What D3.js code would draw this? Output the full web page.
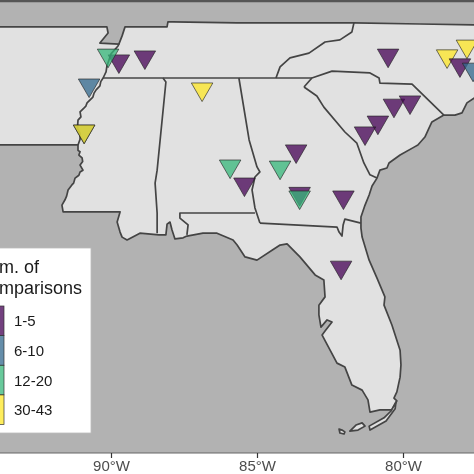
<!DOCTYPE html>
<html><head><meta charset="utf-8">
<script src="https://cdnjs.cloudflare.com/ajax/libs/d3/7.8.5/d3.min.js"></script>
<style>html,body{margin:0;padding:0;background:#fff}svg{display:block;filter:blur(0.45px)}text{font-family:"Liberation Sans",Arial,sans-serif}</style>
</head><body><svg id="c" width="474" height="474"></svg>
<script>
// Study sites: [lon, lat, comparison class], in drawing order
const sites = [
 [-88.84,35.58,0],[-89.73,35.47,0],[-90.10,35.63,2],[-90.75,34.80,1],[-86.88,34.69,3],
 [-90.92,33.52,1],[-90.92,33.52,3],[-85.92,32.55,2],[-85.43,32.05,0],[-83.66,32.97,0],
 [-84.21,32.52,2],[-83.54,31.79,0],[-83.54,31.69,2],[-82.04,31.69,0],[-80.51,35.63,0],
 [-78.49,35.61,3],[-77.81,35.88,3],[-78.05,35.36,0],[-77.60,35.24,1],[-80.31,34.24,0],
 [-79.76,34.33,0],[-80.86,33.77,0],[-81.30,33.47,0],[-82.12,29.74,0]
];
const classLabels = ["1-5","6-10","12-20","30-43"];
const classColors = ["#440154","#31688e","#35b779","#fde725"];
const lonTicks = [-90,-85,-80];

// Outlines, lon/lat
const landRing = [[-94,36.42],[-90.14,36.42],[-90.10,36.25],[-90.38,35.97],[-89.73,35.94],[-89.62,36.17],[-89.52,36.42],[-88.08,36.42],[-88.05,36.56],[-87.88,36.56],[-85.68,36.53],[-81.68,36.53],[-79.42,36.50],[-77.36,36.47],[-77.36,34.56],[-77.57,34.44],[-77.81,34.31],[-77.98,34.03],[-78.22,33.97],[-78.60,33.97],[-79.01,33.78],[-79.11,33.61],[-79.25,33.36],[-79.49,33.14],[-79.62,33.08],[-80.10,32.86],[-80.48,32.64],[-80.55,32.50],[-80.79,32.44],[-80.89,32.22],[-81.06,32.00],[-81.16,31.75],[-81.30,31.47],[-81.44,31.14],[-81.44,30.83],[-81.40,30.58],[-81.16,29.94],[-80.89,29.44],[-80.62,28.92],[-80.65,28.69],[-80.38,28.14],[-80.10,27.44],[-80.07,27.03],[-80.10,26.69],[-80.21,26.28],[-80.31,26.11],[-80.21,26.03],[-80.38,25.78],[-80.48,25.78],[-80.79,25.78],[-81.13,25.72],[-81.20,26.06],[-81.40,26.33],[-81.75,26.47],[-81.99,26.97],[-82.26,27.08],[-82.77,27.86],[-82.67,27.97],[-82.43,28.22],[-82.60,28.28],[-82.81,28.08],[-82.88,28.42],[-82.88,28.69],[-82.67,28.92],[-82.71,29.39],[-83.01,29.53],[-83.53,30.03],[-83.97,30.39],[-84.21,30.36],[-84.42,30.25],[-85.00,29.94],[-85.41,30.03],[-85.68,30.36],[-85.82,30.50],[-86.37,30.69],[-86.85,30.69],[-87.40,30.61],[-87.53,30.56],[-87.81,30.53],[-87.91,30.78],[-87.98,31.00],[-88.08,30.94],[-88.12,30.64],[-88.36,30.64],[-89.01,30.69],[-89.45,30.50],[-89.62,30.58],[-89.69,30.72],[-89.79,31.00],[-89.69,31.28],[-91.64,31.28],[-91.68,31.47],[-91.58,31.61],[-91.52,31.72],[-91.47,31.89],[-91.34,32.03],[-91.28,32.08],[-91.23,32.22],[-91.10,32.30],[-91.06,32.39],[-90.96,32.44],[-91.06,32.58],[-90.97,32.68],[-90.99,32.78],[-91.10,32.86],[-91.06,32.95],[-91.13,32.99],[-91.13,33.14],[-94,33.14]];
const key1 = [[-81.82,25.19],[-81.61,25.36],[-81.40,25.42],[-81.30,25.33],[-81.54,25.22]];
const key2 = [[-82.19,25.25],[-82.09,25.22],[-81.99,25.17],[-82.02,25.11],[-82.16,25.14]];
const key3 = [[-81.16,25.33],[-80.65,25.56],[-80.41,25.75],[-80.24,26.0],[-80.27,25.81],[-80.58,25.47],[-81.13,25.22]];
const riverNorth = [[-91.13,33.14],[-91.06,33.30],[-91.06,33.47],[-91.15,33.60],[-91.13,33.83],[-91.03,33.92],[-91.06,34.06],[-90.92,34.17],[-90.86,34.22],[-90.82,34.31],[-90.62,34.47],[-90.58,34.58],[-90.51,34.67],[-90.38,34.78],[-90.35,34.90],[-90.27,35.00],[-90.17,35.17],[-90.14,35.33],[-90.07,35.50],[-90.00,35.67],[-89.76,35.89],[-89.73,35.94]];
const tnSouth = [[-90.27,35],[-83.12,35]];
const msAl = [[-88.22,35],[-88.12,34.89],[-88.42,32.44],[-88.49,32.08],[-88.42,31.25],[-88.42,30.69]];
const alGa = [[-85.62,35],[-85.27,33.28],[-85.00,32.53],[-84.90,32.39],[-85.07,32.25],[-85.17,31.89],[-85.07,31.39],[-84.90,30.97]];
const alFl = [[-85.07,31.25],[-87.64,31.25],[-87.64,31.11],[-87.36,30.92],[-87.40,30.64]];
const gaFl = [[-84.90,30.97],[-82.26,30.86],[-82.19,30.72],[-82.09,30.61],[-82.05,30.92],[-81.99,31.08],[-81.44,30.97]];
const scNorth = [[-83.39,34.75],[-83.12,35.0],[-82.43,35.19],[-81.13,35.14],[-80.82,35.0],[-80.79,34.86],[-79.69,34.83],[-78.60,33.97]];
const scGa = [[-83.39,34.75],[-82.95,34.5],[-82.71,34.19],[-81.99,33.5],[-81.58,33.19],[-81.34,32.64],[-81.13,32.31],[-80.89,32.22]];
const tnNc = [[-81.68,36.53],[-81.75,36.28],[-82.16,36.06],[-82.67,36.0],[-83.22,35.69],[-83.87,35.56],[-84.21,35.31],[-84.35,35.0]];

const svg = d3.select("#c");
const x = d3.scaleLinear().domain([-90,-80]).range([111,403]);
const y = d3.scaleLinear().domain([35,25]).range([78,438]);
const panelTop = 1, panelBottom = 453;
const stroke = "#444";
const line = d3.line().x(d=>x(d[0])).y(d=>y(d[1]));

svg.append("rect").attr("x",0).attr("y",panelTop).attr("width",474).attr("height",panelBottom-panelTop).attr("fill","#b2b2b2");
const clip = svg.append("defs").append("clipPath").attr("id","p");
clip.append("rect").attr("x",0).attr("y",panelTop).attr("width",474).attr("height",panelBottom-panelTop);
const g = svg.append("g").attr("clip-path","url(#p)");

g.selectAll("path.land").data([landRing,key1,key2,key3]).join("path").attr("class","land")
  .attr("d",d=>line(d)+"Z").attr("fill","#e1e1e1").attr("stroke",stroke).attr("stroke-width",1.7).attr("stroke-linejoin","round");
g.selectAll("path.border").data([riverNorth,tnSouth,msAl,alGa,alFl,gaFl,scNorth,scGa,tnNc]).join("path").attr("class","border")
  .attr("d",line).attr("fill","none").attr("stroke",stroke).attr("stroke-width",1.7).attr("stroke-linejoin","round");

const tri = d3.symbol().type(d3.symbolTriangle).size(200)();
g.selectAll("path.site").data(sites).join("path").attr("class","site").attr("d",tri)
  .attr("transform",d=>`translate(${x(d[0])},${y(d[1])}) rotate(180)`)
  .attr("fill",d=>classColors[d[2]]).attr("fill-opacity",0.75)
  .attr("stroke","#222").attr("stroke-opacity",0.8).attr("stroke-width",0.8);

// Panel frame
svg.append("line").attr("x1",0).attr("x2",474).attr("y1",panelTop).attr("y2",panelTop).attr("stroke","#555").attr("stroke-width",2.4);
svg.append("line").attr("x1",0).attr("x2",474).attr("y1",panelBottom).attr("y2",panelBottom).attr("stroke","#666").attr("stroke-width",1.2);

// Axis
const axis = d3.axisBottom(x).tickValues(lonTicks).tickSize(5).tickSizeOuter(0).tickFormat(d=>Math.abs(d)+"°W");
const ax = svg.append("g").attr("transform",`translate(0,${panelBottom})`).call(axis);
ax.select(".domain").remove();
ax.selectAll(".tick line").attr("stroke","#333").attr("stroke-width",1.2);
ax.selectAll(".tick text").attr("font-size",15).attr("fill","#4d4d4d").attr("font-family",'"Liberation Sans",Arial,sans-serif').attr("y",7).attr("dy","0.71em");

// Legend
const leg = svg.append("g");
leg.append("rect").attr("x",-10).attr("y",248).attr("width",101).attr("height",185).attr("fill","#fff").attr("stroke","#bbb").attr("stroke-width",0.8);
leg.selectAll("text.title").data(["Num. of","Comparisons"]).join("text").attr("class","title")
  .attr("x",-24).attr("y",(d,i)=>273+i*21).attr("font-size",18).attr("fill","#1a1a1a").text(d=>d);
const row = d3.scaleBand().domain(classLabels).range([306,424.5]);
leg.selectAll("rect.key").data(classLabels).join("rect").attr("class","key")
  .attr("x",-20).attr("width",24).attr("y",d=>row(d)).attr("height",row.bandwidth())
  .attr("fill",(d,i)=>classColors[i]).attr("fill-opacity",0.75).attr("stroke","#333").attr("stroke-width",0.7);
leg.selectAll("text.lab").data(classLabels).join("text").attr("class","lab")
  .attr("x",14).attr("y",d=>row(d)+row.bandwidth()/2+5.5).attr("font-size",15).attr("fill","#1a1a1a").text(d=>d);
</script></body></html>
